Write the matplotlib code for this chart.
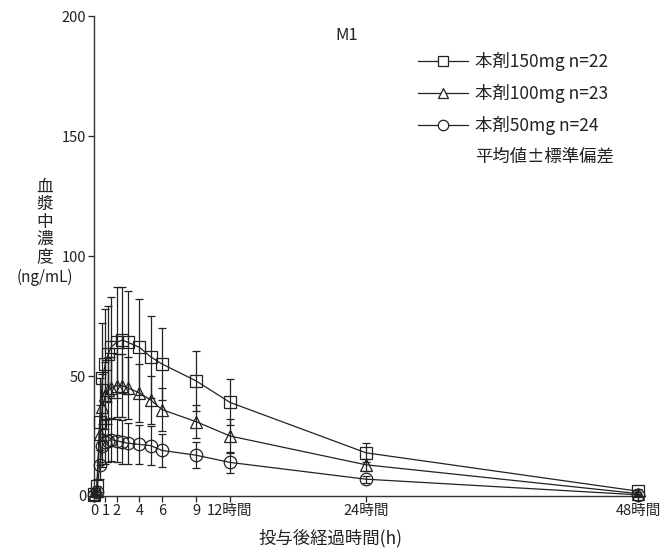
import numpy as np
import matplotlib
matplotlib.use("Agg")
import matplotlib.pyplot as plt
from matplotlib.lines import Line2D

plt.rcParams['font.family'] = ['Noto Sans CJK JP', 'DejaVu Sans']

# sampling times (h)
times = [0, 0.25, 0.5, 0.75, 1, 1.25, 1.5, 2, 2.5, 3, 4, 5, 6, 9, 12, 24, 48]

# 本剤150mg
mean_150 = [1, 4, 31, 49, 55, 59, 62, 64, 65, 64, 62, 58, 55, 48, 39, 18, 2]
sd_150 = [1, 3, 18, 23, 23, 20, 21, 23, 22, 21.5, 20, 17, 15, 12.5, 9.6, 4, 1]
# 本剤100mg
mean_100 = [0.5, 2, 26, 37, 42, 44, 45, 46, 46, 45, 43, 40, 36, 31, 25, 13, 1]
sd_100 = [0.5, 2, 12, 14, 14, 14, 13, 13, 13, 13, 12, 10, 9, 7, 7, 2.5, 0.5]
# 本剤50mg
mean_50 = [0.3, 1.5, 13, 21, 22.5, 23, 23.5, 23, 22.5, 22, 21.5, 21, 19, 17, 14, 7, 0.5]
sd_50 = [0.3, 1, 6, 9, 9, 9, 9, 9, 9, 8.5, 8, 8, 7, 5.5, 4.3, 1.5, 0.3]

series = [
    (mean_150, sd_150, 's', '本剤150mg n=22'),
    (mean_100, sd_100, '^', '本剤100mg n=23'),
    (mean_50, sd_50, 'o', '本剤50mg n=24'),
]

xtick_pos = [0, 1, 2, 4, 6, 9, 12, 24, 48]
xtick_labels = ['0', '1', '2', '4', '6', '9', '12時間', '24時間', '48時間']
ytick_pos = [0, 50, 100, 150, 200]

fig = plt.figure(figsize=(6.6, 5.54), dpi=100)
ax = fig.add_axes([0.1424, 0.1047, 0.977 - 0.1424, 0.971 - 0.1047])

handles = []
for mean, sd, mk, label in series:
    ax.errorbar(times, mean, yerr=sd, color='#222222', lw=0.9, elinewidth=0.9,
                capsize=3, capthick=0.9, marker=mk, markersize=9,
                markerfacecolor='none', markeredgecolor='#222222',
                markeredgewidth=0.9, clip_on=False, zorder=3)
    handles.append(Line2D([], [], color='#222222', lw=0.9, marker=mk,
                          markersize=7.5, markerfacecolor='white',
                          markeredgecolor='#222222', markeredgewidth=0.9,
                          label=label))
handles.append(Line2D([], [], linestyle='none', label='平均値±標準偏差'))

ax.set_xlim(0, 48.6)
ax.set_ylim(0, 200)
ax.spines['top'].set_visible(False)
ax.spines['right'].set_visible(False)
for s in ['left', 'bottom']:
    ax.spines[s].set_color('#333333')
    ax.spines[s].set_linewidth(1.0)

ax.set_xticks(xtick_pos)
ax.set_xticklabels(xtick_labels)
ax.set_yticks(ytick_pos)
ax.tick_params(axis='both', direction='out', length=4, width=0.9,
               colors='#222222', labelsize=10.5, pad=1.5)

ax.text(22.3, 192, 'M1', fontsize=12, ha='center', va='center', color='#222222')

fig.text(0.068, 0.599, '血\n漿\n中\n濃\n度', fontsize=12, ha='center', va='center',
         linespacing=1.02, color='#222222')
fig.text(0.068, 0.5, '(ng/mL)', fontsize=11, ha='center', va='center', color='#222222')
fig.text(0.5, 0.029, '投与後経過時間(h)', fontsize=12.5, ha='center', va='center',
         color='#222222')

leg = ax.legend(handles=handles, loc='upper left', bbox_to_anchor=(0.588, 0.925),
                frameon=False, fontsize=12.5, handlelength=2.9, handletextpad=0.4,
                labelspacing=0.72, borderpad=0, borderaxespad=0)
for t in leg.get_texts():
    t.set_color('#222222')

fig.savefig('out.png', dpi=100)
